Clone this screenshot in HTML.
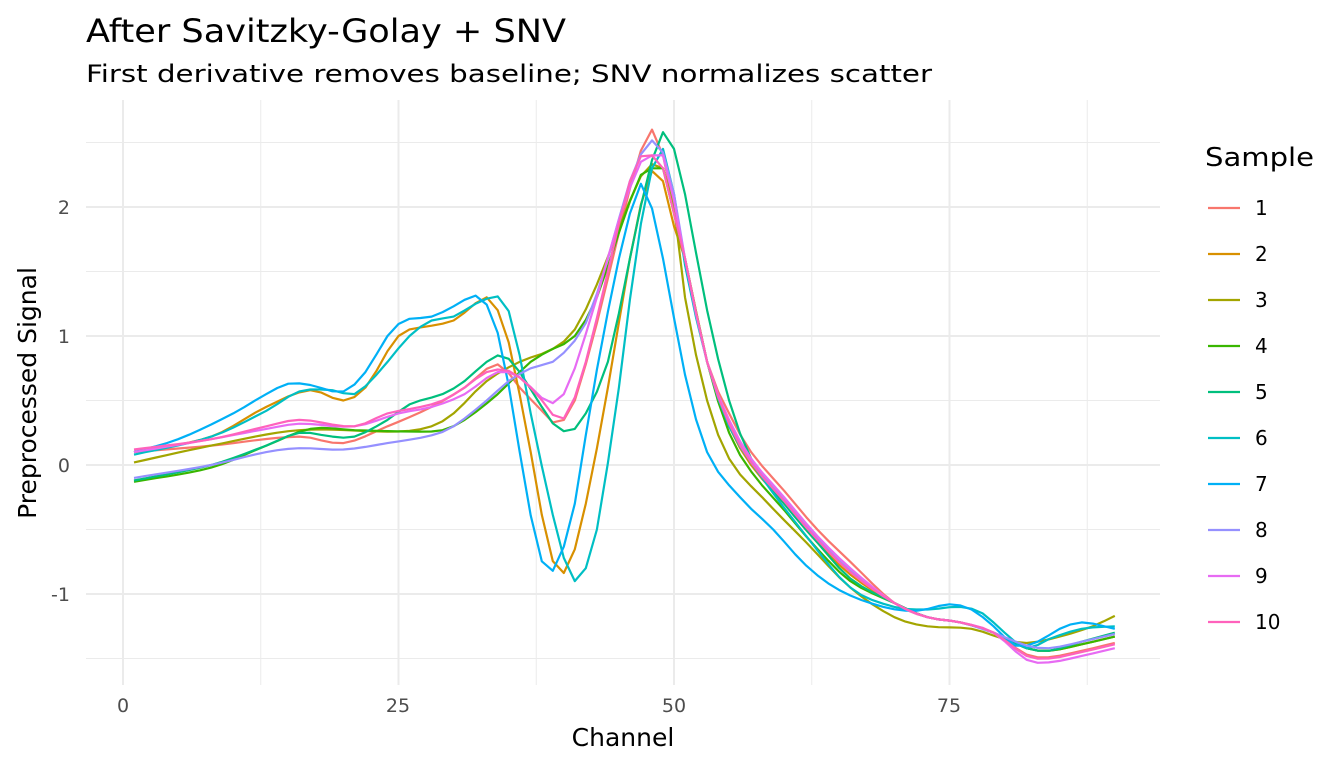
<!DOCTYPE html>
<html><head><meta charset="utf-8"><style>
html,body{margin:0;padding:0;background:#fff}
svg text{font-family:"DejaVu Sans","Liberation Sans",sans-serif}
</style></head><body>
<svg id="s" width="1344" height="768" xmlns="http://www.w3.org/2000/svg">
<rect width="1344" height="768" fill="#fff"/>
<g id="grid"></g>
<g id="lines" fill="none" stroke-width="2.2" stroke-linejoin="round"></g>
<text x="86" y="42" font-size="32" fill="#000" textLength="480" lengthAdjust="spacingAndGlyphs">After Savitzky-Golay + SNV</text>
<text x="86" y="82" font-size="24" fill="#000" textLength="846" lengthAdjust="spacingAndGlyphs">First derivative removes baseline; SNV normalizes scatter</text>
<g font-size="19" fill="#4d4d4d" text-anchor="end">
<text x="70" y="214">2</text><text x="70" y="343">1</text><text x="70" y="472">0</text><text x="70" y="601">-1</text>
</g>
<g font-size="19" fill="#4d4d4d" text-anchor="middle">
<text x="123" y="712">0</text><text x="398" y="712">25</text><text x="674" y="712">50</text><text x="949" y="712">75</text>
</g>
<text x="623" y="746" font-size="25" text-anchor="middle" fill="#000">Channel</text>
<text transform="translate(36,393) rotate(-90)" font-size="25" text-anchor="middle" fill="#000">Preprocessed Signal</text>
<text x="1205" y="166" font-size="26" fill="#000" textLength="109" lengthAdjust="spacingAndGlyphs">Sample</text>
<g id="leg" font-size="20" fill="#000"></g>
</svg>
<script>
var X=function(c){return 123+c*11.02},Y=function(v){return 465-v*129};
var g=document.getElementById('grid'),h='';
[12.5,37.5,62.5,87.5].forEach(function(c){h+='<line x1="'+X(c)+'" x2="'+X(c)+'" y1="100" y2="685" stroke="#ebebeb" stroke-width="1"/>'});
[-1.5,-0.5,0.5,1.5,2.5].forEach(function(v){h+='<line y1="'+Y(v)+'" y2="'+Y(v)+'" x1="86" x2="1160" stroke="#ebebeb" stroke-width="1"/>'});
[0,25,50,75].forEach(function(c){h+='<line x1="'+X(c)+'" x2="'+X(c)+'" y1="100" y2="685" stroke="#ebebeb" stroke-width="2"/>'});
[-1,0,1,2].forEach(function(v){h+='<line y1="'+Y(v)+'" y2="'+Y(v)+'" x1="86" x2="1160" stroke="#ebebeb" stroke-width="2"/>'});
g.innerHTML=h;
var T=[[51,1.6],[53,0.8],[55,0.3],[57,0.0],[60,-0.3],[63,-0.6],[66,-0.85],[70,-1.07],[73,-1.18],[76,-1.22],[79,-1.3],[82,-1.45],[84,-1.47],[87,-1.42],[90,-1.36]];
function tail(d,o){return T.map(function(p){return [p[0],p[1]+(p[0]>=80?(d||0):0)+(p[0]<70&&p[0]>53?(o||0):0)]})}
var S=[
["#F8766D",[[1,0.1],[8,0.15],[16,0.22],[20,0.17],[24,0.3],[28,0.45],[31,0.6],[34,0.78],[36,0.6],[38,0.42],[39,0.33],[40,0.35],[41,0.5],[43,1.1],[45,1.8],[46.5,2.3],[47.5,2.55],[48,2.6],[49,2.4],[50,2.0]].concat(tail(-0.02,0.1))],
["#D89000",[[1,0.1],[8,0.22],[13,0.45],[17,0.58],[20,0.5],[22,0.6],[25,1.0],[28,1.08],[30,1.12],[33,1.3],[34,1.2],[35,0.95],[37,0.1],[38.5,-0.6],[39.5,-0.82],[40.5,-0.78],[42,-0.3],[44,0.6],[46,1.6],[47.5,2.2],[48,2.28],[49,2.2],[50,1.85]].concat(tail(0.03,0))],
["#A3A500",[[1,0.02],[8,0.15],[16,0.27],[25,0.26],[28,0.3],[30,0.4],[33,0.65],[36,0.8],[39,0.9],[41,1.05],[43,1.4],[46,2.05],[47.5,2.3],[49,2.3],[50,2.0],[51,1.3],[53,0.5],[55,0.05],[58,-0.25],[62,-0.6],[66,-0.95],[70,-1.18],[73,-1.25],[77,-1.27],[80,-1.35],[82,-1.38],[85,-1.33],[88,-1.25],[90,-1.17]]],
["#39B600",[[1,-0.13],[8,-0.02],[13,0.15],[17,0.28],[21,0.27],[26,0.26],[29,0.27],[31,0.35],[34,0.55],[37,0.8],[39,0.9],[41,1.0],[43,1.3],[45,1.8],[47,2.25],[48,2.3],[49,2.3],[50,1.95]].concat(tail(0.03,-0.05))],
["#00BF7D",[[1,-0.12],[8,0.0],[13,0.15],[16,0.25],[19,0.22],[21,0.22],[24,0.35],[26,0.47],[29,0.55],[31,0.65],[33,0.8],[34.5,0.85],[36,0.72],[38,0.45],[39.5,0.28],[41,0.28],[42,0.4],[44,0.8],[46,1.6],[47.5,2.2],[48.5,2.5],[49,2.58],[50,2.45],[51,2.1],[53,1.2],[55,0.5],[57,0.05],[60,-0.3],[63,-0.6],[66,-0.88],[70,-1.07],[73,-1.18],[76,-1.22],[79,-1.3],[82,-1.42],[84,-1.44],[87,-1.37],[90,-1.3]]],
["#00BFC4",[[1,0.08],[8,0.22],[13,0.42],[16,0.57],[19,0.58],[21,0.55],[23,0.7],[26,1.0],[28,1.12],[30,1.15],[32,1.25],[33.5,1.3],[34.5,1.28],[35.5,1.05],[37,0.4],[38.5,-0.2],[40,-0.72],[41,-0.9],[42,-0.8],[43,-0.5],[45,0.6],[46.5,1.6],[48,2.3],[49,2.45],[50,2.1],[51,1.55],[53,0.8],[55,0.3],[58,-0.1],[62,-0.55],[66,-0.95],[70,-1.1],[73,-1.12],[76,-1.1],[78,-1.15],[80,-1.3],[82,-1.42],[84,-1.35],[87,-1.27],[90,-1.25]]],
["#00B0F6",[[1,0.1],[5,0.2],[10,0.4],[13,0.55],[15,0.63],[17,0.62],[20,0.57],[22,0.72],[24,1.0],[25.5,1.12],[28,1.15],[30,1.23],[31.5,1.3],[32.5,1.3],[33.5,1.15],[34.5,0.85],[36,0.1],[37.5,-0.6],[38.5,-0.82],[39.5,-0.75],[41,-0.3],[42.5,0.5],[44.5,1.4],[46,1.95],[47,2.18],[47.5,2.15],[49,1.6],[51,0.7],[53,0.1],[56,-0.25],[59,-0.5],[62,-0.78],[65,-0.97],[69,-1.1],[72,-1.13],[75,-1.08],[77,-1.12],[79,-1.25],[81,-1.4],[83,-1.37],[85,-1.27],[87,-1.22],[90,-1.27]]],
["#9590FF",[[1,-0.1],[8,0.0],[13,0.1],[16,0.13],[20,0.12],[24,0.17],[28,0.23],[30,0.3],[33,0.5],[35,0.65],[37,0.75],[39,0.8],[40,0.87],[42,1.1],[44,1.6],[46,2.2],[47.5,2.48],[48.5,2.5],[49.5,2.3],[50,2.1]].concat(tail(0.05,0.03))],
["#E76BF3",[[1,0.1],[8,0.2],[13,0.28],[16,0.32],[21,0.3],[25,0.4],[28,0.45],[31,0.55],[34,0.72],[36,0.68],[38,0.52],[39,0.48],[40,0.55],[41,0.75],[43,1.3],[45,1.9],[47,2.35],[48,2.4],[49,2.4],[50,2.05]].concat(tail(-0.06,0.05))],
["#FF62BC",[[1,0.12],[8,0.2],[13,0.3],[16,0.35],[21,0.3],[24,0.4],[27,0.45],[29,0.5],[31,0.6],[33,0.72],[35,0.73],[37,0.6],[38.5,0.45],[39.5,0.35],[40.5,0.42],[42,0.8],[44,1.5],[46,2.2],[47.5,2.45],[48,2.4],[49,2.3],[50,1.95]].concat(tail(-0.03,0.02))]
];
function interp(pts){var out=[];for(var c=1;c<=90;c++){var i=0;while(i<pts.length-2&&pts[i+1][0]<c)i++;
var p0=pts[Math.max(i-1,0)],p1=pts[i],p2=pts[i+1],p3=pts[Math.min(i+2,pts.length-1)];
var t=(c-p1[0])/(p2[0]-p1[0]);t=Math.max(0,Math.min(1,t));
var d1=(p2[1]-p0[1])/((p2[0]-p0[0])||1)*(p2[0]-p1[0]),d2=(p3[1]-p1[1])/((p3[0]-p1[0])||1)*(p2[0]-p1[0]);
var t2=t*t,t3=t2*t;var v=(2*t3-3*t2+1)*p1[1]+(t3-2*t2+t)*d1+(-2*t3+3*t2)*p2[1]+(t3-t2)*d2;
out.push(X(c).toFixed(1)+','+Y(v).toFixed(1));}return out.join(' ');}
var L='',G='';
S.forEach(function(s,k){L+='<polyline stroke="'+s[0]+'" points="'+interp(s[1])+'"/>';
var y=208+k*46;G+='<line x1="1208" x2="1240" y1="'+y+'" y2="'+y+'" stroke="'+s[0]+'" stroke-width="2.2"/><text x="1255" y="'+(y+7)+'">'+(k+1)+'</text>';});
document.getElementById('lines').innerHTML=L;document.getElementById('leg').innerHTML=G;
</script>
</body></html>
